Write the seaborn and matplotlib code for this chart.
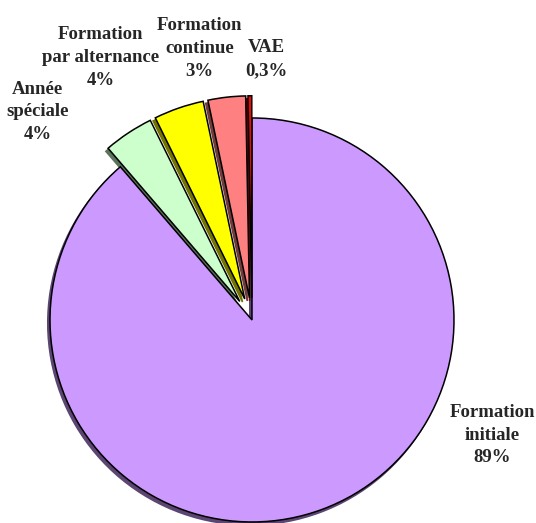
import matplotlib
matplotlib.use("Agg")
import matplotlib.pyplot as plt
import seaborn as sns

# %% data

categories = ["Formation\ninitiale", "Année\nspéciale", "Formation\npar alternance",
              "Formation\ncontinue", "VAE"]
shares = [88.7, 4.0, 4.0, 3.0, 0.3]
pct_labels = ["89%", "4%", "4%", "3%", "0,3%"]
colors = ["#CC99FF", "#CCFFCC", "#FFFF00", "#FF8080", "#FF0000"]
explode = [0, 0.11, 0.11, 0.11, 0.11]

# label spots (data units, pie radius = 1)
label_pos = [(1.19, -0.57), (-1.06, 1.03), (-0.75, 1.30), (-0.26, 1.345), (0.07, 1.29)]

# %% plot

sns.set_style("white")
plt.rcParams["font.family"] = ["Liberation Serif", "DejaVu Serif"]

fig = plt.figure(figsize=(5.36, 5.23), dpi=100)
ax = fig.add_axes([0, 0, 1, 1])

wedges, _ = ax.pie(shares, colors=colors, explode=explode, startangle=90,
                   counterclock=False, radius=1,
                   shadow={"ox": -0.008, "oy": -0.011, "shade": 0.55, "alpha": 1},
                   wedgeprops={"edgecolor": "black", "linewidth": 1.1})

for cat, pct, (x, y) in zip(categories, pct_labels, label_pos):
    ax.text(x, y, cat + "\n" + pct, ha="center", va="center",
            fontsize=13.5, fontweight="bold", linespacing=1.45)

ax.set_xlim(-1.2475, 1.406)
ax.set_ylim(-1.005, 1.584)
ax.set_aspect("equal")
ax.axis("off")

plt.savefig("out.png", dpi=100)
